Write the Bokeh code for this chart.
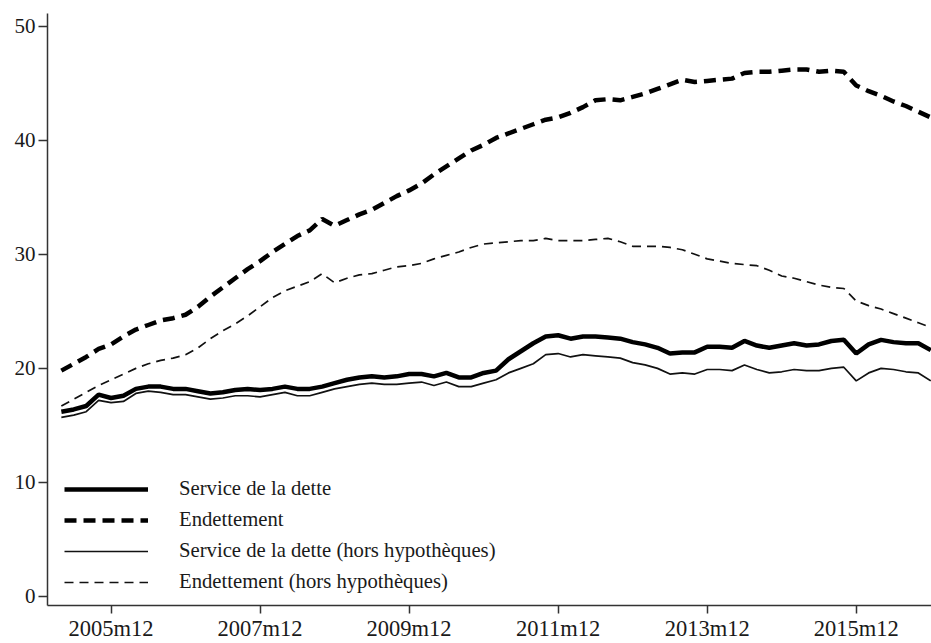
from bokeh.plotting import figure
from bokeh.models import FixedTicker, Range1d, Legend, LegendItem
from bokeh.embed import file_html
from bokeh.resources import INLINE

# ---- data (monthly index, every 2 months from 2005m4 to 2016m12) ----
start_month = "2005m4"
step_months = 2
tick_labels = ["2005m12", "2007m12", "2009m12", "2011m12", "2013m12", "2015m12"]
y_ticks = [0, 10, 20, 30, 40, 50]

service = [16.2, 16.4, 16.7, 17.7, 17.4, 17.6, 18.2, 18.4, 18.4, 18.2,
           18.2, 18.0, 17.8, 17.9, 18.1, 18.2, 18.1, 18.2, 18.4, 18.2,
           18.2, 18.4, 18.7, 19.0, 19.2, 19.3, 19.2, 19.3, 19.5, 19.5,
           19.3, 19.6, 19.2, 19.2, 19.6, 19.8, 20.8, 21.5, 22.2, 22.8,
           22.9, 22.6, 22.8, 22.8, 22.7, 22.6, 22.3, 22.1, 21.8, 21.3,
           21.4, 21.4, 21.9, 21.9, 21.8, 22.4, 22.0, 21.8, 22.0, 22.2,
           22.0, 22.1, 22.4, 22.5, 21.3, 22.1, 22.5, 22.3, 22.2, 22.2, 21.6]

endettement = [19.8, 20.4, 21.0, 21.7, 22.1, 22.8, 23.4, 23.8, 24.2, 24.4,
               24.7, 25.4, 26.3, 27.1, 27.9, 28.7, 29.4, 30.2, 30.9, 31.6,
               32.1, 33.1, 32.5, 33.0, 33.5, 33.9, 34.5, 35.1, 35.6, 36.2,
               37.0, 37.7, 38.4, 39.1, 39.6, 40.2, 40.6, 41.0, 41.4, 41.8,
               42.0, 42.4, 42.9, 43.5, 43.6, 43.5, 43.8, 44.1, 44.5, 44.9,
               45.3, 45.1, 45.2, 45.3, 45.4, 45.9, 46.0, 46.0, 46.1, 46.2,
               46.2, 46.0, 46.1, 46.0, 44.8, 44.3, 43.9, 43.4, 43.0, 42.5, 42.0]

service_hh = [15.7, 15.9, 16.2, 17.2, 17.0, 17.1, 17.8, 18.0, 17.9, 17.7,
              17.7, 17.5, 17.3, 17.4, 17.6, 17.6, 17.5, 17.7, 17.9, 17.6,
              17.6, 17.9, 18.2, 18.4, 18.6, 18.7, 18.6, 18.6, 18.7, 18.8,
              18.5, 18.8, 18.4, 18.4, 18.7, 19.0, 19.6, 20.0, 20.4, 21.2,
              21.3, 21.0, 21.2, 21.1, 21.0, 20.9, 20.5, 20.3, 20.0, 19.5,
              19.6, 19.5, 19.9, 19.9, 19.8, 20.3, 19.9, 19.6, 19.7, 19.9,
              19.8, 19.8, 20.0, 20.1, 18.9, 19.6, 20.0, 19.9, 19.7, 19.6, 18.9]

endettement_hh = [16.7, 17.3, 17.9, 18.5, 19.0, 19.5, 20.0, 20.4, 20.7, 20.9,
                  21.2, 21.8, 22.6, 23.3, 23.9, 24.6, 25.4, 26.2, 26.8, 27.2,
                  27.6, 28.3, 27.5, 27.9, 28.2, 28.3, 28.6, 28.9, 29.0, 29.2,
                  29.6, 29.9, 30.2, 30.6, 30.9, 31.0, 31.1, 31.2, 31.2, 31.4,
                  31.2, 31.2, 31.2, 31.3, 31.4, 31.1, 30.7, 30.7, 30.7, 30.6,
                  30.4, 30.0, 29.6, 29.4, 29.2, 29.1, 29.0, 28.6, 28.1, 27.9,
                  27.6, 27.3, 27.1, 27.0, 25.9, 25.5, 25.2, 24.8, 24.4, 24.0, 23.6]

labels = ["Service de la dette", "Endettement",
          "Service de la dette (hors hypothèques)", "Endettement (hors hypothèques)"]


def month_index(lbl):
    y, m = lbl.split("m")
    return (int(y) - 2005) * 12 + int(m) - 1


m0 = month_index(start_month)
x = [m0 + step_months * i for i in range(len(service))]
tick_pos = [month_index(t) for t in tick_labels]

FONT = "Liberation Serif"
AXIS_COL = "#333333"

p = figure(width=931, height=643, output_backend="svg", toolbar_location=None,
           x_range=Range1d(0.77, 143.12), y_range=Range1d(-0.79, 51.11),
           min_border_left=47, min_border_right=0, min_border_top=13, min_border_bottom=0)
p.outline_line_color = None
p.grid.visible = False

r1 = p.line(x, service, line_color="black", line_width=4.5)
r2 = p.line(x, endettement, line_color="black", line_width=4.5, line_dash="12 7")
r3 = p.line(x, service_hh, line_color="#111111", line_width=1.7)
r4 = p.line(x, endettement_hh, line_color="#111111", line_width=1.7, line_dash="9 6")

for ax in (p.xaxis, p.yaxis):
    ax.axis_line_color = AXIS_COL
    ax.axis_line_width = 1.5
    ax.major_tick_line_color = AXIS_COL
    ax.major_tick_line_width = 1.5
    ax.major_tick_in = 0
    ax.minor_tick_line_color = None
    ax.major_label_text_font = FONT
    ax.major_label_text_color = "#1a1a1a"

p.xaxis.ticker = FixedTicker(ticks=tick_pos)
p.xaxis.major_label_overrides = {tp: tl for tp, tl in zip(tick_pos, tick_labels)}
p.xaxis.major_tick_out = 8
p.xaxis.major_label_standoff = 2
p.xaxis.major_label_text_font_size = "22.5px"

p.yaxis.ticker = FixedTicker(ticks=y_ticks)
p.yaxis.major_tick_out = 9
p.yaxis.major_label_standoff = 3
p.yaxis.major_label_text_font_size = "21px"

legend = Legend(items=[LegendItem(label=l, renderers=[r]) for l, r in zip(labels, [r1, r2, r3, r4])],
                location=(17, 12), glyph_width=84, glyph_height=20, label_height=20,
                label_standoff=31, spacing=8, padding=0, margin=0,
                border_line_color=None, background_fill_alpha=0,
                label_text_font=FONT, label_text_font_size="20.7px", label_text_color="#1a1a1a")
p.add_layout(legend)

open("out.html", "w").write(file_html(p, INLINE))
